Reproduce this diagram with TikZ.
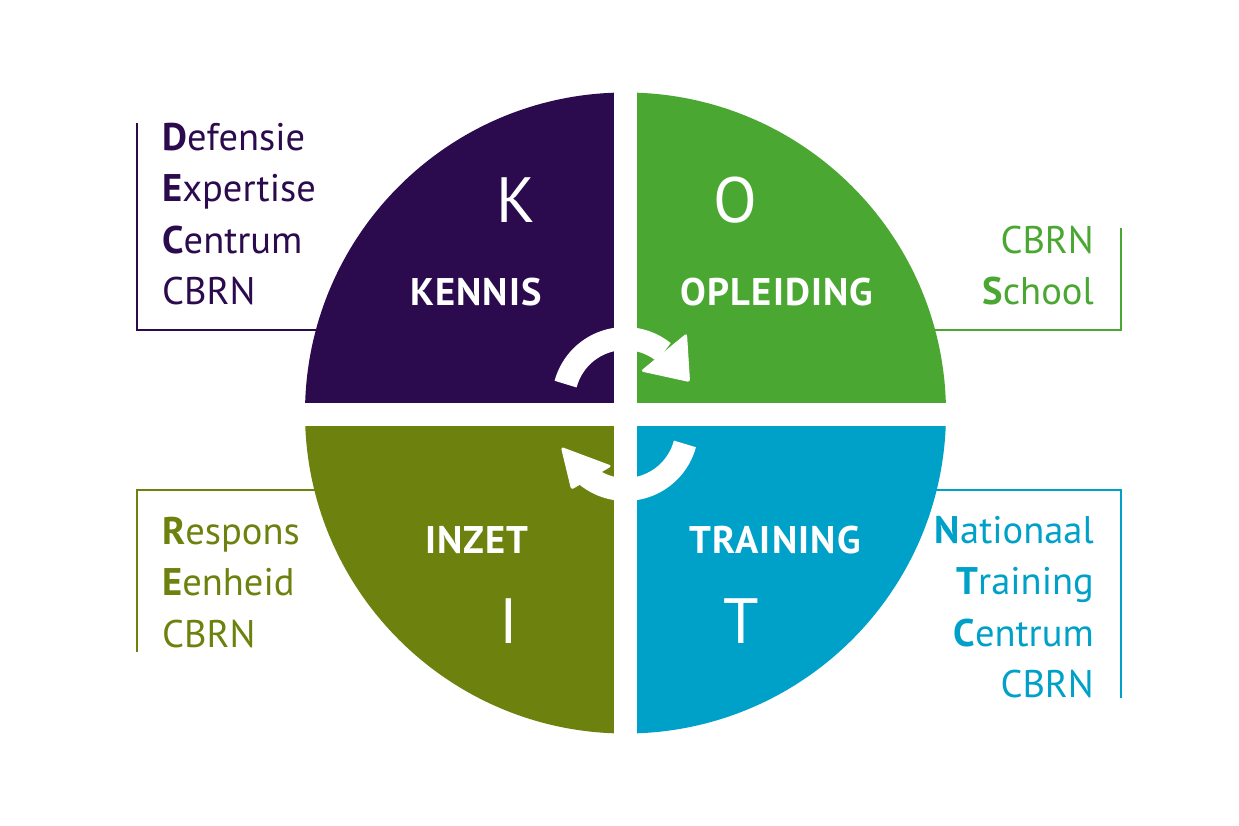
\documentclass[tikz,border=0pt]{standalone}
\usepackage{fontspec}
\setmainfont{PT Sans}
\definecolor{cpurple}{HTML}{2B0A4D}
\definecolor{cgreen}{HTML}{4AA832}
\definecolor{colive}{HTML}{6D820E}
\definecolor{ccyan}{HTML}{00A1C9}
\tikzset{
  side/.style={font=\fontsize{38.5}{46}\selectfont, inner sep=0pt},
  sidel/.style={side, anchor=base west},
  sider/.style={side, anchor=base east},
  qlabel/.style={font=\fontsize{38.5}{46}\selectfont\bfseries\addfontfeature{LetterSpace=3}, text=white, inner sep=0pt, anchor=base},
  bigletter/.style={font=\fontsize{64}{70}\selectfont, text=white, inner sep=0pt, anchor=base},
  bracket/.style={line width=2pt},
  band/.style={white, line width=23pt},
  head/.style={fill=white, draw=white, line width=1pt, rounded corners=2pt},
}
\begin{document}
\begin{tikzpicture}[x=1pt,y=-1pt]
\useasboundingbox (0,0) rectangle (1239,825);
\fill[white] (0,0) rectangle (1239,825);
\coordinate (C) at (625.5,413);

% brackets (drawn first, ends hidden under the circle)
\draw[bracket, cpurple] (137,123) -- (137,330) -- (420,330);
\draw[bracket, cgreen] (1121,228) -- (1121,330) -- (830,330);
\draw[bracket, colive] (137,652) -- (137,490) -- (420,490);
\draw[bracket, ccyan] (1121,698) -- (1121,490) -- (830,490);

% quadrants
\begin{scope}
  \clip (C) circle[radius=320.5];
  \fill[cpurple] (250,50) rectangle (C);
  \fill[cgreen] (1000,50) rectangle (C);
  \fill[colive] (250,780) rectangle (C);
  \fill[ccyan] (1000,780) rectangle (C);
\end{scope}
\fill[white] (614,70) rectangle (637,760);
\fill[white] (280,403) rectangle (970,426);

% cycle arrows
\draw[band] (565.6,384.1) arc[start angle=195, end angle=309, radius=61.5];
\filldraw[head] (686.5,334) -- (689.5,381.5) -- (641.5,371) -- cycle;
\draw[band] (684.9,443.9) arc[start angle=15, end angle=129, radius=61.5];
\filldraw[head] (561.5,447.5) -- (611,466) -- (571.5,489) -- cycle;

% quadrant texts
\node[bigletter] (k) at (516,222) {K};
\node[qlabel] (kennis) at (476,305) {KENNIS};
\node[bigletter] (o) at (735,222) {O};
\node[qlabel] (opleiding) at (777,305) {OPLEIDING};
\node[qlabel] (inzet) at (477,553) {INZET};
\node[bigletter] (i) at (509,643) {I};
\node[qlabel] (training) at (775,553) {TRAINING};
\node[bigletter] (t) at (741,643) {T};

% side texts
\node[sidel, text=cpurple] (dec1) at (162,150) {{\bfseries D}efensie};
\node[sidel, text=cpurple] (dec2) at (162,201.5) {{\bfseries E}xpertise};
\node[sidel, text=cpurple] (dec3) at (162,253) {{\bfseries C}entrum};
\node[sidel, text=cpurple] (dec4) at (162,304.5) {CBRN};

\node[sider, text=cgreen] (cs1) at (1094,253) {CBRN};
\node[sider, text=cgreen] (cs2) at (1094,304) {{\bfseries S}chool};

\node[sidel, text=colive] (re1) at (162,544) {{\bfseries R}espons};
\node[sidel, text=colive] (re2) at (162,595.5) {{\bfseries E}enheid};
\node[sidel, text=colive] (re3) at (162,647) {CBRN};

\node[sider, text=ccyan] (nt1) at (1094,543) {{\bfseries N}ationaal};
\node[sider, text=ccyan] (nt2) at (1094,594.5) {{\bfseries T}raining};
\node[sider, text=ccyan] (nt3) at (1094,646) {{\bfseries C}entrum};
\node[sider, text=ccyan] (nt4) at (1094,697) {CBRN};
\end{tikzpicture}
\end{document}
